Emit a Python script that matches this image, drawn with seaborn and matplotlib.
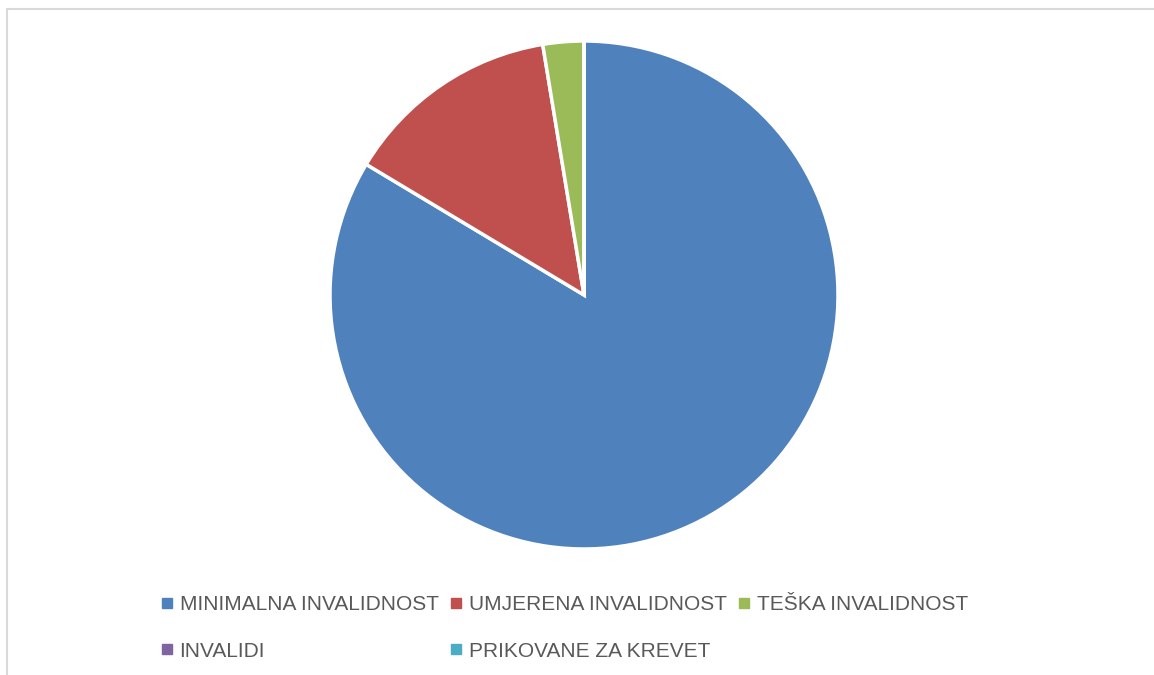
"""Pie chart of invalidity categories, Excel style."""
import matplotlib
matplotlib.use('Agg')
import matplotlib.pyplot as plt
from matplotlib.lines import Line2D
import seaborn as sns

# data (shares in %)
categories = ['MINIMALNA INVALIDNOST', 'UMJERENA INVALIDNOST', 'TEŠKA INVALIDNOST',
              'INVALIDI', 'PRIKOVANE ZA KREVET']
values = [83.6, 13.8, 2.6, 0, 0]
colors = ['#4F81BD', '#C0504D', '#9BBB59', '#8064A2', '#4BACC6']

sns.set_style('white')
plt.rcParams['font.family'] = ['Liberation Sans', 'DejaVu Sans']

W, H = 1154, 675
fig = plt.figure(figsize=(W / 100, H / 100), dpi=100)

# pie centre (584, 295), radius 254 px
cx, cy, r = 584, 295, 254
ax = fig.add_axes([(cx - r) / W, (H - cy - r) / H, 2 * r / W, 2 * r / H])
wedges, _ = ax.pie(values, colors=colors, startangle=90, counterclock=False,
                   wedgeprops=dict(edgecolor='white', linewidth=2.5))
ax.set_xlim(-1, 1)
ax.set_ylim(-1, 1)
ax.set_aspect('equal')
ax.axis('off')

# legend, rows filled like Excel (matplotlib fills by column)
order = [0, 3, 1, 4, 2]
handles = [Line2D([], [], marker='s', linestyle='', markersize=6.5,
                  markerfacecolor=colors[i], markeredgecolor=colors[i]) for i in order]
labels = [categories[i] for i in order]
fig.legend(handles, labels, ncol=3, loc='center', bbox_to_anchor=(565 / W, 1 - 628 / H),
           frameon=False, fontsize=15, labelcolor='#595959', handlelength=0.5,
           handletextpad=0.35, columnspacing=0.6, labelspacing=1.3)

# light chart-area border (only top and left visible)
fig.add_artist(Line2D([7 / W, 1], [1 - 9 / H, 1 - 9 / H], color='#D9D9D9', linewidth=1.5))
fig.add_artist(Line2D([7 / W, 7 / W], [0, 1 - 9 / H], color='#D9D9D9', linewidth=1.5))

fig.savefig('out.png', dpi=100)
